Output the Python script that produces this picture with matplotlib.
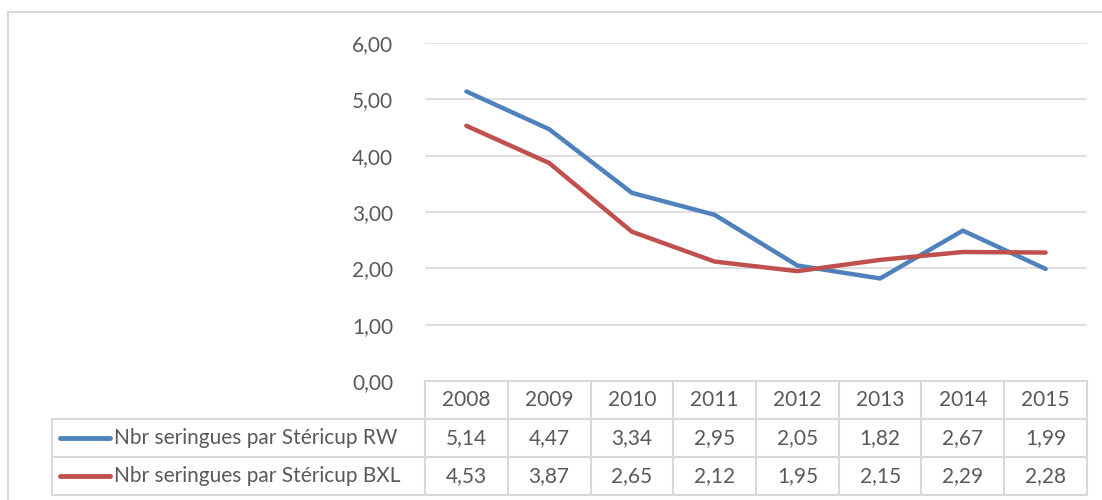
import matplotlib.pyplot as plt
import matplotlib.transforms as mtransforms
from matplotlib.lines import Line2D
from matplotlib.patches import Rectangle
from matplotlib.ticker import FuncFormatter

years = ["2008", "2009", "2010", "2011", "2012", "2013", "2014", "2015"]
rw = [5.14, 4.47, 3.34, 2.95, 2.05, 1.82, 2.67, 1.99]
bxl = [4.53, 3.87, 2.65, 2.12, 1.95, 2.15, 2.29, 2.28]
series_names = ["Nbr seringues par Stéricup RW", "Nbr seringues par Stéricup BXL"]
colors = ["#4F81BD", "#C0504D"]

W, H = 1102, 500
GRID = "#D9D9D9"
TXT = "#595959"
FS = 15

plt.rcParams["font.family"] = ["Lato", "DejaVu Sans"]


def fmt(v):
    return f"{v:.2f}".replace(".", ",")


def fx(px):
    return px / W


def fy(py):
    return 1 - py / H


fig = plt.figure(figsize=(W / 100, H / 100), dpi=100)
ax = fig.add_axes([fx(425), fy(381), fx(1087) - fx(425), fy(43) - fy(381)])

x = list(range(len(years)))
ax.plot(x, rw, color=colors[0], lw=3.2, solid_capstyle="round", zorder=3)
ax.plot(x, bxl, color=colors[1], lw=3.2, solid_capstyle="round", zorder=3)

ax.set_xlim(-0.5, len(years) - 0.5)
ax.set_ylim(0, 6)
ax.set_yticks(range(0, 7))
ax.yaxis.set_major_formatter(FuncFormatter(lambda v, _: fmt(v)))
ax.tick_params(axis="y", length=0, pad=23, labelsize=FS, labelcolor=TXT)
ax.set_xticks([])
for s in ax.spines.values():
    s.set_visible(False)
ax.grid(axis="y", color=GRID, lw=1.2)
ax.set_axisbelow(True)

# data table below the plot
blend = mtransforms.blended_transform_factory(ax.transData, fig.transFigure)
rows_y = [fy(381), fy(419), fy(457), fy(495)]
lw_t = 1.5

# horizontal lines
fig.add_artist(Line2D([fx(425), fx(1087)], [rows_y[0]] * 2, color=GRID, lw=lw_t))
for yy in rows_y[1:]:
    fig.add_artist(Line2D([fx(52), fx(1087)], [yy] * 2, color=GRID, lw=lw_t))
# vertical lines
fig.add_artist(Line2D([fx(52), fx(52)], [rows_y[1], rows_y[3]], color=GRID, lw=lw_t))
for i in range(len(years) + 1):
    fig.add_artist(Line2D([i - 0.5, i - 0.5], [rows_y[0], rows_y[3]],
                          transform=blend, color=GRID, lw=lw_t))

for i, yr in enumerate(years):
    ax.text(i, (rows_y[0] + rows_y[1]) / 2, yr, transform=blend, ha="center",
            va="center", fontsize=FS, color=TXT)
for r, vals in enumerate([rw, bxl]):
    yc = (rows_y[r + 1] + rows_y[r + 2]) / 2
    for i, v in enumerate(vals):
        ax.text(i, yc, fmt(v), transform=blend, ha="center", va="center",
                fontsize=FS, color=TXT)
    fig.add_artist(Line2D([fx(60), fx(110)], [yc, yc], color=colors[r], lw=3.5,
                          solid_capstyle="round"))
    fig.text(fx(114), yc, series_names[r], ha="left", va="center", fontsize=FS,
             color=TXT)

# chart frame
fig.add_artist(Rectangle((fx(8), -0.1), 1.2, fy(12) + 0.1, transform=fig.transFigure,
                         facecolor="none", edgecolor=GRID, lw=1.5))

fig.savefig("out.png", dpi=100)
